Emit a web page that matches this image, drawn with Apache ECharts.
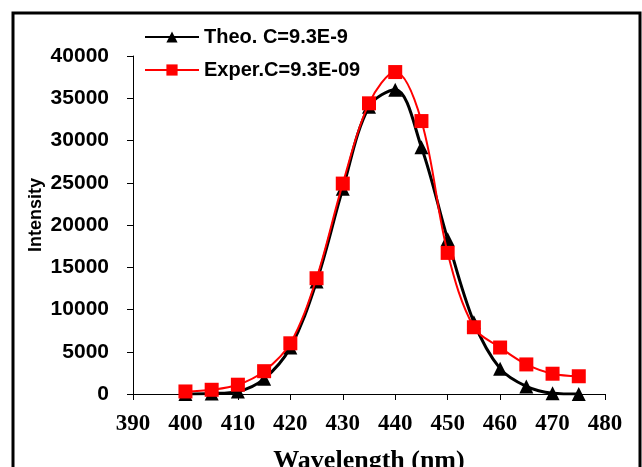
<!DOCTYPE html>
<html>
<head>
<meta charset="utf-8">
<script src="https://cdn.jsdelivr.net/npm/echarts@6/dist/echarts.min.js"></script>
<style>html,body{margin:0;padding:0;background:#fff;}#c{width:642px;height:467px;}</style>
</head>
<body>
<div id="c"></div>
<script>
var wavelengths = [400, 405, 410, 415, 420, 425, 430, 435, 440, 445, 450, 455, 460, 465, 470, 475];
var theoValues = [0, 50, 300, 1800, 5500, 13300, 24300, 34000, 36000, 29200, 18300, 8500, 3000, 900, 100, 0];
var experValues = [300, 500, 1100, 2700, 6000, 13700, 24900, 34400, 38100, 32300, 16700, 7900, 5500, 3500, 2400, 2100];
var xTicks = {min: 390, max: 480, interval: 10};
var yTicks = {min: 0, max: 40000, interval: 5000};

function pairs(xs, ys) { return xs.map(function (x, i) { return [x, ys[i]]; }); }

var chart = echarts.init(document.getElementById('c'), null, {renderer: 'canvas'});
chart.setOption({
  animation: false,
  backgroundColor: '#fff',
  grid: {left: 133, right: 37, top: 56, bottom: 73, containLabel: false, outerBoundsMode: 'none'},
  graphic: [{
    type: 'rect', silent: true, z: 100,
    shape: {x: 13, y: 13, width: 627, height: 470},
    style: {fill: 'none', stroke: '#000', lineWidth: 3}
  }],
  legend: {
    orient: 'vertical', left: 139, top: 22, itemWidth: 54, itemHeight: 14, itemGap: 13,
    textStyle: {fontFamily: 'Liberation Sans', fontWeight: 'bold', fontSize: 20, color: '#000'},
    data: ['Theo. C=9.3E-9', 'Exper.C=9.3E-09']
  },
  xAxis: {
    type: 'value', min: xTicks.min, max: xTicks.max, interval: xTicks.interval,
    name: 'Wavelength (nm)', nameLocation: 'middle', nameGap: 54, nameMoveOverlap: false,
    nameTextStyle: {fontFamily: 'Liberation Serif', fontWeight: 'bold', fontSize: 26, color: '#000'},
    axisLine: {show: true, lineStyle: {color: '#000', width: 1}},
    axisTick: {show: true, inside: false, length: 6, lineStyle: {color: '#000'}},
    axisLabel: {margin: 19, fontFamily: 'Liberation Serif', fontWeight: 'bold', fontSize: 23, color: '#000'},
    splitLine: {show: false}
  },
  yAxis: {
    type: 'value', min: yTicks.min, max: yTicks.max, interval: yTicks.interval,
    name: 'Intensity', nameLocation: 'middle', nameGap: 88, nameRotate: 90, nameMoveOverlap: false,
    nameTextStyle: {fontFamily: 'Liberation Sans', fontWeight: 'bold', fontSize: 18, color: '#000',
      padding: [0, 0, 0, 20]},
    axisLine: {show: true, lineStyle: {color: '#000', width: 1}},
    axisTick: {show: true, inside: false, length: 6, lineStyle: {color: '#000'}},
    axisLabel: {margin: 24, fontFamily: 'Liberation Sans', fontWeight: 'bold', fontSize: 21, color: '#000',
      formatter: function (v) { return String(v); }},
    splitLine: {show: false}
  },
  series: [{
    name: 'Theo. C=9.3E-9', type: 'line', smooth: 0.35,
    data: pairs(wavelengths, theoValues),
    symbol: 'triangle', symbolSize: 14,
    itemStyle: {color: '#000'},
    lineStyle: {color: '#000', width: 3}, z: 2
  }, {
    name: 'Exper.C=9.3E-09', type: 'line', smooth: 0.35,
    data: pairs(wavelengths, experValues),
    symbol: 'rect', symbolSize: 14,
    itemStyle: {color: '#ff0000'},
    lineStyle: {color: '#ff0000', width: 2}, z: 3
  }]
});
</script>
</body>
</html>
